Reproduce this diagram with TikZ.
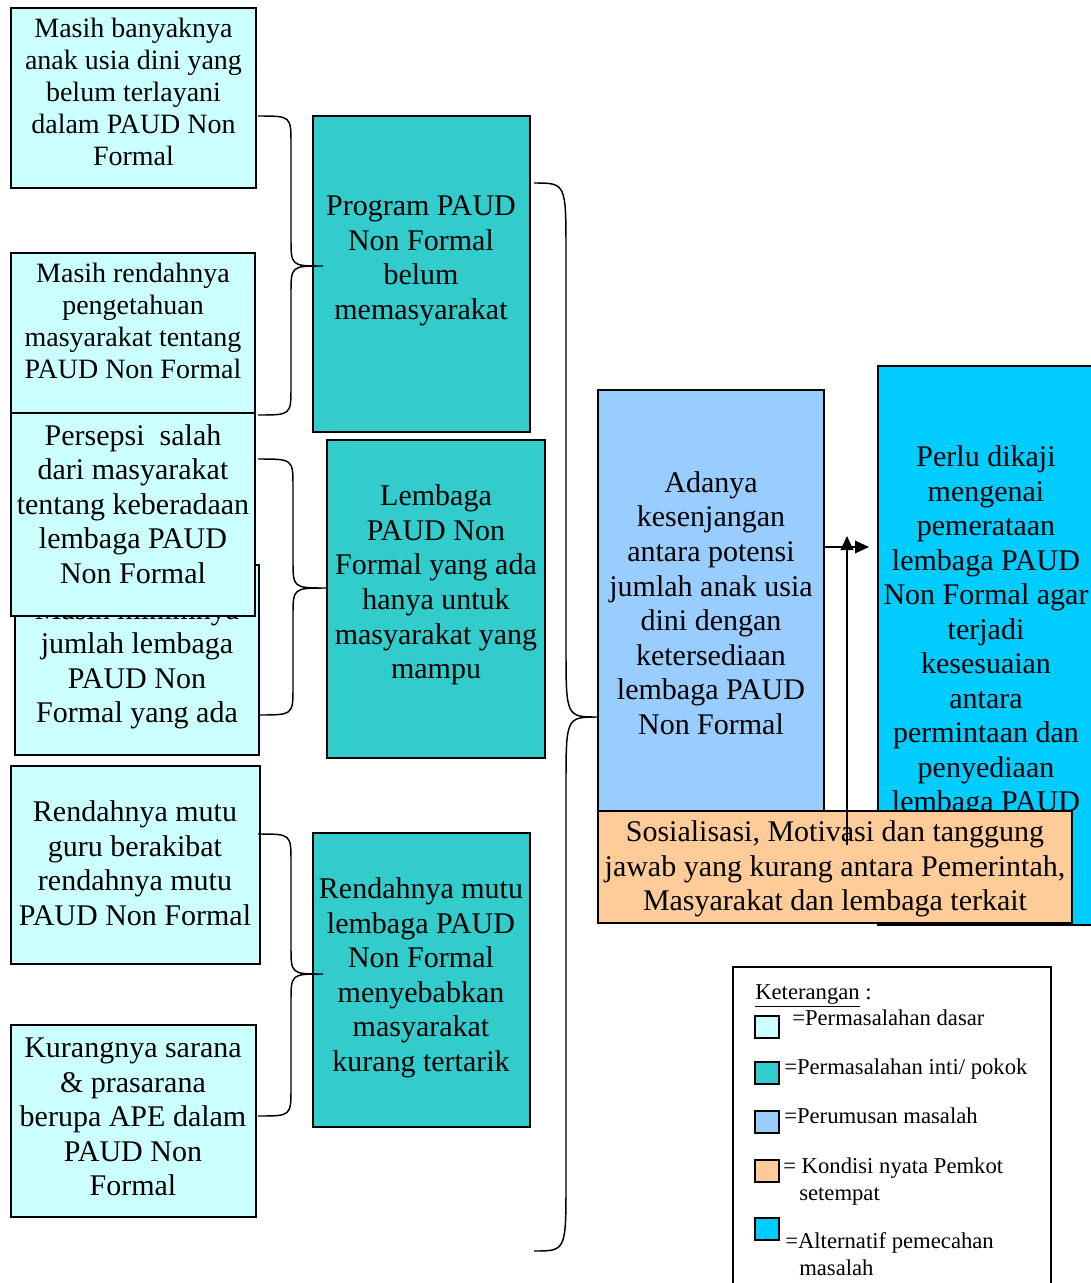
\documentclass[tikz,border=0pt]{standalone}
\usepackage{fontspec}
\setmainfont{Liberation Serif}
\usetikzlibrary{arrows.meta}
\definecolor{lcyan}{HTML}{CCFFFF}
\definecolor{teal2}{HTML}{33CCCC}
\definecolor{lblue}{HTML}{99CCFF}
\definecolor{lorange}{HTML}{FFCC99}
\definecolor{bcyan}{HTML}{00CCFF}
% #1 x0, #2 xv, #3 xtip, #4 ytop, #5 ytip, #6 ybot, #7 radius
\newcommand{\mybrace}[7]{%
  \draw[bracestyle] (#1,#4) .. controls (#2,#4) .. (#2,#4+#7) -- (#2,#5-#7)
    .. controls (#2,#5) .. (#3,#5) .. controls (#2,#5) .. (#2,#5+#7)
    -- (#2,#6-#7) .. controls (#2,#6) .. (#1,#6);}
\begin{document}
\begin{tikzpicture}[x=0.75pt,y=-0.75pt,
  box/.style={draw=black, line width=1.1pt, inner sep=0pt, outer sep=0pt, anchor=north west},
  sz/.style 2 args={minimum width=#1*0.75pt, minimum height=#2*0.75pt},
  tbig/.style={align=center, inner sep=0pt, font=\fontsize{22.5}{25.9}\selectfont},
  tsmall/.style={align=center, inner sep=0pt, font=\fontsize{21}{24}\selectfont},
  leg/.style={anchor=base west, inner sep=0pt, font=\fontsize{17}{20}\selectfont},
  legsq/.style={draw=black, line width=1.1pt, inner sep=0pt, outer sep=0pt, anchor=north west, minimum width=18pt, minimum height=16.5pt},
  bracestyle/.style={draw=black, line width=1.1pt},
  conn/.style={draw=black, line width=1pt, -{Triangle[length=10.5pt,width=9.5pt]}}]
\useasboundingbox (0,0) rectangle (1091,1283);

% basic problems (left column)
\node[box, fill=lcyan, sz={245}{180}] (a1) at (11,8) {};
\node[tsmall] (a1t) at (133.5,92) {Masih banyaknya\\anak usia dini yang\\belum terlayani\\dalam PAUD Non\\Formal};
\node[box, fill=lcyan, sz={244}{190}] (a4) at (15,565) {};
\node[tbig] (a4t) at (137,664) {Masih minimnya\\jumlah lembaga\\PAUD Non\\Formal yang ada};
\node[box, fill=lcyan, sz={244}{160}] (a2) at (11,253) {};
\node[tsmall] (a2t) at (133,321) {Masih rendahnya\\pengetahuan\\masyarakat tentang\\PAUD Non Formal};
\node[box, fill=lcyan, sz={244}{203}] (a3) at (11,413) {};
\node[tbig] (a3t) at (133,504) {Persepsi\ \ salah\\dari masyarakat\\tentang keberadaan\\lembaga PAUD\\Non Formal};
\node[box, fill=lcyan, sz={249}{198}] (a5) at (11,766) {};
\node[tbig] (a5t) at (135,863) {Rendahnya mutu\\guru berakibat\\rendahnya mutu\\PAUD Non Formal};
\node[box, fill=lcyan, sz={245}{192}] (a6) at (11,1025) {};
\node[tbig] (a6t) at (133,1117) {Kurangnya sarana\\\& prasarana\\berupa APE dalam\\PAUD Non\\Formal};

% core problems
\node[box, fill=teal2, sz={217}{316}] (b1) at (313,116) {};
\node[tbig] (b1t) at (421,261) {Program PAUD\\Non Formal\\belum\\memasyarakat};
\node[box, fill=teal2, sz={218}{318}] (b2) at (327,440) {};
\node[tbig] (b2t) at (436,585) {Lembaga\\PAUD Non\\Formal yang ada\\hanya untuk\\masyarakat yang\\mampu};
\node[box, fill=teal2, sz={217}{294}] (b3) at (313,833) {};
\node[tbig] (b3t) at (421,978) {Rendahnya mutu\\lembaga PAUD\\Non Formal\\menyebabkan\\masyarakat\\kurang tertarik};

% braces
\mybrace{258}{291}{323}{116}{266}{415}{28}
\mybrace{258}{293}{327}{459}{588}{715}{28}
\mybrace{258}{291}{323}{834}{974}{1116}{28}
\mybrace{534}{566}{598}{183}{717}{1251}{70}

% right part
\node[box, fill=bcyan, sz={216}{559}] (d) at (878,366) {};
\node[tbig] (dt) at (986,632) {Perlu dikaji\\mengenai\\pemerataan\\lembaga PAUD\\Non Formal agar\\terjadi\\kesesuaian\\antara\\permintaan dan\\penyediaan\\lembaga PAUD};
\node[box, fill=lblue, sz={226}{533}] (c) at (598,390) {};
\node[tbig] (ct) at (711,603) {Adanya\\kesenjangan\\antara potensi\\jumlah anak usia\\dini dengan\\ketersediaan\\lembaga PAUD\\Non Formal};
\node[box, fill=lorange, sz={474}{112}] (e) at (598,811) {};
\node[tbig] (et) at (835,869) {Sosialisasi, Motivasi dan tanggung\\jawab yang kurang antara Pemerintah,\\Masyarakat dan lembaga terkait};

% arrows
\coordinate (h0) at (824,547);
\coordinate (h1) at (869,547);
\coordinate (v0) at (847,845);
\coordinate (v1) at (847,536);
\draw[conn] (h0) -- (h1);
\draw[conn] (v0) -- (v1);

% legend
\node[box, fill=white, sz={318}{330}] (lg) at (733,967) {};
\node[leg] (lgt) at (755,999) {\underline{Keterangan} :};
\node[legsq, fill=lcyan] (s1) at (755,1016) {};
\node[leg] (l1) at (792,1025) {=Permasalahan dasar};
\node[legsq, fill=teal2] (s2) at (755,1062) {};
\node[leg] (l2) at (784,1074) {=Permasalahan inti/ pokok};
\node[legsq, fill=lblue] (s3) at (755,1111) {};
\node[leg] (l3) at (784,1123) {=Perumusan masalah};
\node[legsq, fill=lorange] (s4) at (755,1160) {};
\node[leg] (l4) at (783,1173) {= Kondisi nyata Pemkot};
\node[leg] (l4b) at (799,1200) {setempat};
\node[legsq, fill=bcyan] (s5) at (755,1218) {};
\node[leg] (l5) at (785,1248) {=Alternatif pemecahan};
\node[leg] (l5b) at (799,1275) {masalah};
\end{tikzpicture}
\end{document}
